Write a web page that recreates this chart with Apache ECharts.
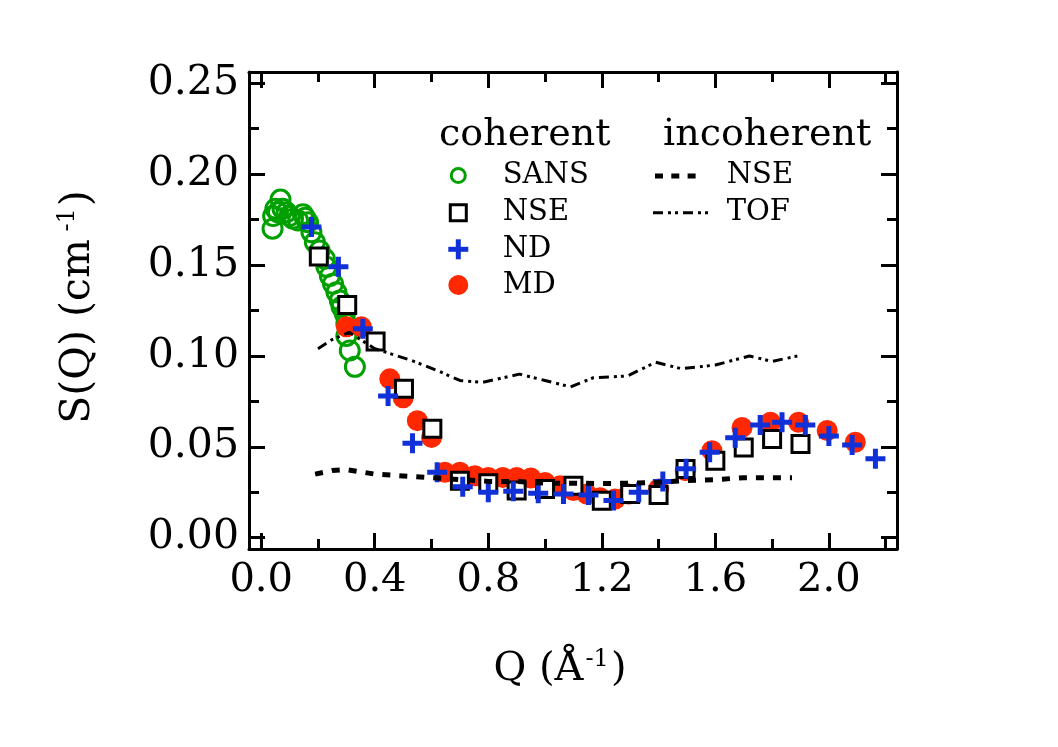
<!DOCTYPE html>
<html><head><meta charset="utf-8">
<script src="https://cdn.jsdelivr.net/npm/echarts@6/dist/echarts.min.js"></script>
<style>html,body{margin:0;padding:0;background:#fff}#c{width:1058px;height:747px}</style>
</head><body><div id="c"></div>
<script>
// ---- data (Q in 1/Å, S(Q) in 1/cm) ----
const sansCoherent = [[0.040,0.170],[0.042,0.177],[0.050,0.181],[0.059,0.179],[0.068,0.186],[0.075,0.181],[0.089,0.179],[0.100,0.177],[0.112,0.1755],[0.130,0.1745],[0.147,0.178],[0.155,0.176],[0.165,0.1736],[0.177,0.168],[0.189,0.1626],[0.206,0.158],[0.224,0.1535],[0.230,0.149],[0.242,0.144],[0.253,0.1397],[0.265,0.135],[0.277,0.1305],[0.283,0.127],[0.295,0.123],[0.300,0.1177],[0.300,0.111],[0.312,0.103],[0.330,0.094]];
const mdCoherent = [[0.300,0.116],[0.353,0.116],[0.453,0.0874],[0.500,0.077],[0.550,0.0644],[0.600,0.0552],[0.647,0.036],[0.700,0.036],[0.753,0.0341],[0.800,0.0332],[0.851,0.0332],[0.900,0.0332],[0.950,0.0329],[1.000,0.0304],[1.053,0.0286],[1.100,0.026],[1.147,0.024],[1.194,0.022],[1.247,0.0213],[1.294,0.024],[1.400,0.0268],[1.494,0.0369],[1.588,0.0479],[1.694,0.0607],[1.794,0.0635],[1.893,0.0635],[1.994,0.059],[2.093,0.0525]];
const nseCoherent = [[0.203,0.1547],[0.303,0.128],[0.403,0.108],[0.503,0.082],[0.603,0.0599],[0.700,0.0314],[0.800,0.0300],[0.900,0.026],[1.000,0.0268],[1.100,0.0286],[1.200,0.0204],[1.300,0.024],[1.400,0.0235],[1.495,0.0378],[1.600,0.0424],[1.700,0.0497],[1.800,0.0543],[1.900,0.0516]];
const ndCoherent = [[0.177,0.171],[0.272,0.149],[0.358,0.115],[0.447,0.078],[0.533,0.052],[0.620,0.036],[0.710,0.028],[0.800,0.025],[0.888,0.0255],[0.976,0.0244],[1.065,0.024],[1.153,0.0235],[1.241,0.0205],[1.330,0.025],[1.415,0.031],[1.497,0.038],[1.580,0.047],[1.670,0.055],[1.758,0.062],[1.835,0.0635],[1.917,0.062],[2.000,0.056],[2.082,0.051],[2.164,0.0435]];
const nseIncoherent = [[0.19,0.035],[0.25,0.037],[0.30,0.0375],[0.40,0.035],[0.50,0.034],[0.60,0.033],[0.70,0.032],[0.80,0.031],[0.90,0.031],[1.00,0.030],[1.10,0.030],[1.20,0.0298],[1.30,0.030],[1.40,0.0305],[1.50,0.0315],[1.60,0.032],[1.70,0.033],[1.80,0.033],[1.87,0.033]];
const tofIncoherent = [[0.20,0.104],[0.25,0.109],[0.31,0.113],[0.40,0.104],[0.53,0.0975],[0.62,0.092],[0.70,0.0865],[0.78,0.0855],[0.91,0.090],[1.00,0.0865],[1.09,0.083],[1.17,0.088],[1.29,0.089],[1.39,0.0965],[1.48,0.093],[1.60,0.095],[1.72,0.100],[1.80,0.097],[1.89,0.100]];

const xMajorTicks = [0, 0.4, 0.8, 1.2, 1.6, 2.0];
const xMinorTicks = [0.2, 0.6, 1.0, 1.4, 1.8, 2.2];
const yMajorTicks = [0, 0.05, 0.10, 0.15, 0.20, 0.25];
const yMinorTicks = [0.025, 0.075, 0.125, 0.175, 0.225];

const legendCoherent = ['SANS', 'NSE', 'ND', 'MD'];
const legendIncoherent = ['NSE', 'TOF'];

// ---- style ----
const X_MIN = -0.043, X_MAX = 2.24, Y_MIN = -0.0062, Y_MAX = 0.2562;
const FONT = 'DejaVu Serif';
const GREEN = '#00a000', RED = '#ff2800', BLUE = '#1030d8', BLACK = '#000';
const PLUS = 'path://M3.75,0H6.25V3.75H10V6.25H6.25V10H3.75V6.25H0V3.75H3.75Z';
const TOF_DASH = [10, 5, 3, 4, 3, 5];

function xAxisDef(pos, ticks, len, labels) {
  return {
    type: 'value', position: pos, min: X_MIN, max: X_MAX,
    axisLine: { show: labels !== null, onZero: false, lineStyle: { color: BLACK, width: 3 } },
    axisTick: { show: true, inside: true, length: len, customValues: ticks, lineStyle: { color: BLACK, width: 3 } },
    axisLabel: labels ? { show: true, customValues: ticks, formatter: v => v.toFixed(1), fontFamily: FONT, fontSize: 40, color: BLACK, margin: 12 } : { show: false },
    splitLine: { show: false }
  };
}
function yAxisDef(pos, ticks, len, labels) {
  return {
    type: 'value', position: pos, min: Y_MIN, max: Y_MAX,
    axisLine: { show: labels !== null, onZero: false, lineStyle: { color: BLACK, width: 3 } },
    axisTick: { show: true, inside: true, length: len, customValues: ticks, lineStyle: { color: BLACK, width: 3 } },
    axisLabel: labels ? { show: true, customValues: ticks, formatter: v => v.toFixed(2), fontFamily: FONT, fontSize: 41, color: BLACK, margin: 10 } : { show: false },
    splitLine: { show: false }
  };
}

const chart = echarts.init(document.getElementById('c'), null, { renderer: 'canvas' });

const legendX = 458.3, legendTextX = 502.7, rowY = [175.5, 212.7, 249.3, 285];
const incLineX0 = 653, incTextX = 726.7;

const graphics = [
  { type: 'text', x: 439, y: 135, style: { text: 'coherent', fontFamily: FONT, fontSize: 38, fill: BLACK, align: 'left', verticalAlign: 'middle' } },
  { type: 'text', x: 663, y: 135, style: { text: 'incoherent', fontFamily: FONT, fontSize: 38, fill: BLACK, align: 'left', verticalAlign: 'middle' } },
  { type: 'circle', shape: { cx: legendX, cy: rowY[0], r: 7 }, style: { fill: 'none', stroke: GREEN, lineWidth: 3 } },
  { type: 'rect', shape: { x: legendX - 8, y: rowY[1] - 8, width: 16, height: 16 }, style: { fill: '#fff', stroke: BLACK, lineWidth: 3 } },
  { type: 'rect', shape: { x: legendX - 10, y: rowY[2] - 2.5, width: 20, height: 5 }, style: { fill: BLUE } },
  { type: 'rect', shape: { x: legendX - 2.5, y: rowY[2] - 10, width: 5, height: 20 }, style: { fill: BLUE } },
  { type: 'circle', shape: { cx: legendX, cy: rowY[3], r: 10 }, style: { fill: RED } },
  { type: 'line', shape: { x1: incLineX0 + 2, y1: rowY[0] + 0.5, x2: incLineX0 + 45, y2: rowY[0] + 0.5 }, style: { stroke: BLACK, lineWidth: 5, lineDash: [8, 8.3] } },
  { type: 'line', shape: { x1: incLineX0, y1: rowY[1], x2: incLineX0 + 57, y2: rowY[1] }, style: { stroke: BLACK, lineWidth: 3, lineDash: TOF_DASH } },
  { type: 'text', x: 78, y: 307, rotation: Math.PI / 2,
    style: { text: '{a|S(Q) (cm}{b| -1}{a|)}', align: 'center', verticalAlign: 'middle',
      rich: { a: { fontFamily: FONT, fontSize: 41, lineHeight: 44, fill: BLACK }, b: { fontFamily: FONT, fontSize: 24, lineHeight: 26, verticalAlign: 'top', fill: BLACK, padding: [0, 2, 0, 0] } } } },
  { type: 'text', x: 560, y: 670,
    style: { text: '{a|Q (Å}{b|-1}{a|)}', align: 'center', verticalAlign: 'middle',
      rich: { a: { fontFamily: FONT, fontSize: 40, lineHeight: 44, fill: BLACK }, b: { fontFamily: FONT, fontSize: 24, lineHeight: 26, verticalAlign: 'top', fill: BLACK, padding: [0, 2, 0, 2] } } } }
];
legendCoherent.forEach((t, i) => graphics.push({ type: 'text', x: legendTextX, y: rowY[i], style: { text: t, fontFamily: FONT, fontSize: 29, fill: BLACK, align: 'left', verticalAlign: 'middle' } }));
legendIncoherent.forEach((t, i) => graphics.push({ type: 'text', x: incTextX, y: rowY[i], style: { text: t, fontFamily: FONT, fontSize: 29, fill: BLACK, align: 'left', verticalAlign: 'middle' } }));

chart.setOption({
  animation: false,
  backgroundColor: '#fff',
  grid: { left: 249, right: 161, top: 72, bottom: 198, containLabel: false },
  xAxis: [
    xAxisDef('bottom', xMajorTicks, 16, true),
    xAxisDef('bottom', xMinorTicks, 10, null),
    xAxisDef('top', xMajorTicks, 16, false),
    xAxisDef('top', xMinorTicks, 10, null)
  ],
  yAxis: [
    yAxisDef('left', yMajorTicks, 16, true),
    yAxisDef('left', yMinorTicks, 10, null),
    yAxisDef('right', yMajorTicks, 16, false),
    yAxisDef('right', yMinorTicks, 10, null)
  ],
  series: [
    { name: 'SANS', type: 'scatter', data: sansCoherent, symbol: 'circle', symbolSize: 19, z: 2,
      itemStyle: { color: 'transparent', borderColor: GREEN, borderWidth: 3, opacity: 1 }, emphasis: { disabled: true } },
    { name: 'MD', type: 'scatter', data: mdCoherent, symbol: 'circle', symbolSize: 21, z: 3,
      itemStyle: { color: RED, opacity: 1 }, emphasis: { disabled: true } },
    { name: 'NSE coherent', type: 'scatter', data: nseCoherent, symbol: 'rect', symbolSize: 17, z: 4,
      itemStyle: { color: '#fff', borderColor: BLACK, borderWidth: 3, opacity: 1 }, emphasis: { disabled: true } },
    { name: 'ND', type: 'scatter', data: ndCoherent, symbol: PLUS, symbolSize: 20, z: 5,
      itemStyle: { color: BLUE, opacity: 1 }, emphasis: { disabled: true } },
    { name: 'NSE incoherent', type: 'line', data: nseIncoherent, symbol: 'none', z: 6,
      lineStyle: { color: BLACK, width: 5, type: [8, 9] }, emphasis: { disabled: true } },
    { name: 'TOF', type: 'line', data: tofIncoherent, symbol: 'none', z: 6,
      lineStyle: { color: BLACK, width: 3, type: TOF_DASH }, emphasis: { disabled: true } }
  ],
  graphic: graphics
});
</script></body></html>
